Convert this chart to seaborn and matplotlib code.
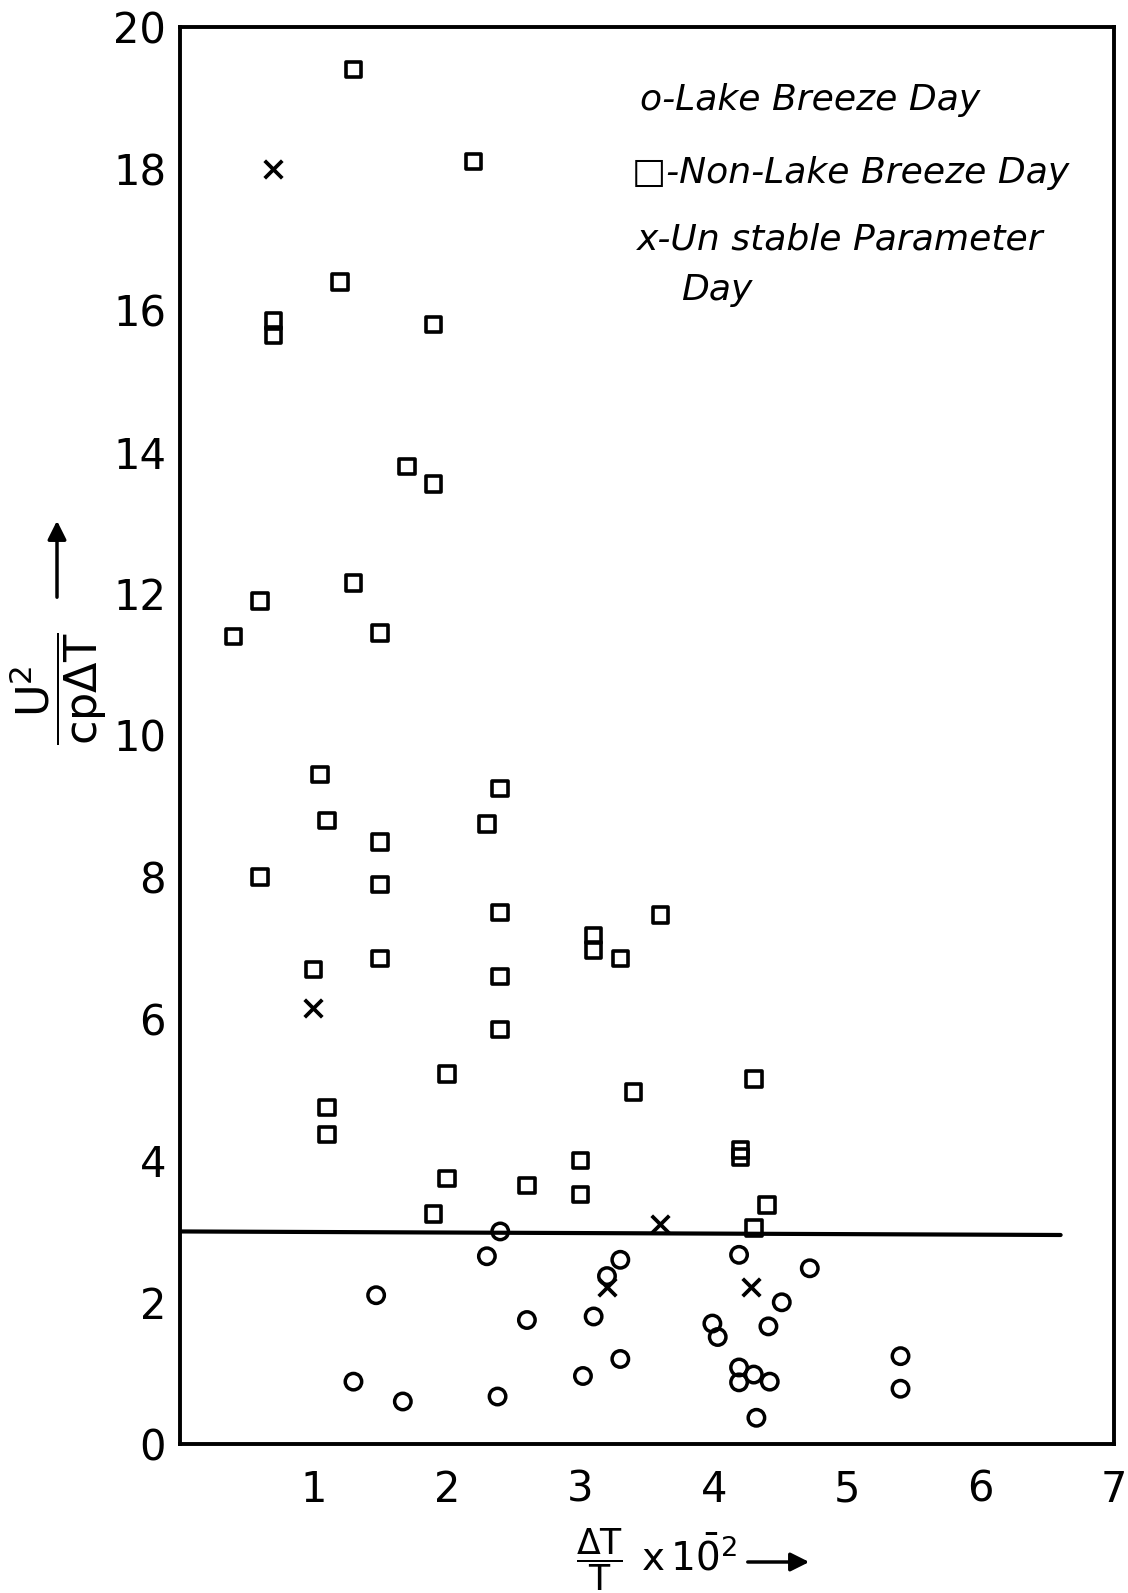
import matplotlib
matplotlib.use("Agg")
import matplotlib.pyplot as plt
import seaborn as sns

# ---------------- data ----------------
lake_x = [2.40, 2.30, 1.47, 2.60, 1.30, 1.67, 2.38, 3.30, 3.20, 3.10, 3.30, 3.02,
          4.19, 4.72, 4.51, 3.99, 4.03, 4.41, 4.19, 4.19, 4.30, 4.42, 4.32, 5.40, 5.40]
lake_y = [3.00, 2.65, 2.10, 1.75, 0.88, 0.60, 0.67, 2.60, 2.37, 1.80, 1.20, 0.96,
          2.67, 2.48, 2.00, 1.70, 1.51, 1.66, 1.08, 0.87, 0.98, 0.88, 0.37, 1.24, 0.78]

nonlake_x = [1.30, 2.20, 1.20, 0.70, 0.70, 1.90, 1.70, 1.90, 1.30, 0.60, 0.40, 1.50,
             1.05, 1.10, 2.40, 2.30, 1.50, 0.60, 1.50, 2.40, 1.50, 1.00, 2.40, 2.40,
             2.00, 1.10, 1.10, 2.00, 2.60, 1.90, 3.10, 3.10, 3.30, 3.60, 3.40, 4.30,
             3.00, 3.00, 4.20, 4.20, 4.40, 4.30]
nonlake_y = [19.40, 18.10, 16.40, 15.85, 15.65, 15.80, 13.80, 13.55, 12.15, 11.90, 11.40, 11.45,
             9.45, 8.80, 9.25, 8.75, 8.50, 8.00, 7.90, 7.50, 6.85, 6.70, 6.60, 5.85,
             5.22, 4.75, 4.37, 3.75, 3.65, 3.25, 7.18, 6.97, 6.85, 7.47, 4.97, 5.15,
             4.00, 3.52, 4.15, 4.05, 3.37, 3.05]

unstable_x = [0.70, 1.00, 3.60, 3.20, 4.28]
unstable_y = [18.00, 6.15, 3.10, 2.21, 2.22]

threshold_x = [0.0, 6.6]
threshold_y = [3.0, 2.95]

x_ticks = [1, 2, 3, 4, 5, 6, 7]
y_ticks = [0, 2, 4, 6, 8, 10, 12, 14, 16, 18, 20]
legend_lines = ["o-Lake Breeze Day", "\u25a1-Non-Lake Breeze Day",
                "x-Un stable Parameter", "Day"]

# ---------------- style ----------------
sns.set_theme(style="white")
plt.rcParams["font.family"] = ["DejaVu Sans"]
plt.rcParams["mathtext.fontset"] = "dejavusans"

W, H = 1128, 1593
fig = plt.figure(figsize=(W / 100, H / 100), dpi=100)
fig.patch.set_facecolor("white")
ax = fig.add_axes([180 / W, 1 - 1444 / H, (1114 - 180) / W, (1444 - 27) / H])
ax.set_facecolor("white")

# threshold line
sns.lineplot(x=threshold_x, y=threshold_y, ax=ax, color="black", linewidth=3.0)

# scatter series
sns.scatterplot(x=nonlake_x, y=nonlake_y, ax=ax, marker="s", s=125,
                color="black", linewidth=2.6, zorder=3)
sq = ax.collections[-1]
sq.set_facecolor("none"); sq.set_edgecolor("black")

sns.scatterplot(x=lake_x, y=lake_y, ax=ax, marker="o", s=140,
                color="black", linewidth=2.5, zorder=3)
cc = ax.collections[-1]
cc.set_facecolor("none"); cc.set_edgecolor("black")

sns.scatterplot(x=unstable_x, y=unstable_y, ax=ax, marker="x", s=160,
                color="black", linewidth=2.7, zorder=3)

# axes
ax.set_xlim(0, 7)
ax.set_ylim(0, 20)
ax.set_xticks(x_ticks)
ax.set_yticks(y_ticks)
ax.set_xticklabels([str(t) for t in x_ticks])
ax.set_yticklabels([str(t) for t in y_ticks])
ax.tick_params(axis="both", direction="in", length=17, width=2.2, color="black",
               labelsize=30, labelcolor="black")
ax.tick_params(axis="x", pad=18)
ax.tick_params(axis="y", pad=10)
for sp in ax.spines.values():
    sp.set_visible(True)
    sp.set_color("black")
    sp.set_linewidth(2.8)
ax.grid(False)
ax.set_xlabel("")
ax.set_ylabel("")

# legend (hand-lettered style text)
leg_pos = [(0.4925, 0.9485), (0.484, 0.897), (0.489, 0.8497), (0.536, 0.8144)]
for txt, (lx, ly) in zip(legend_lines, leg_pos):
    ax.text(lx, ly, txt, transform=ax.transAxes, fontsize=26, style="italic",
            va="center", ha="left", color="black")

# y-axis label: fraction + arrow
fig.text(58 / W, 1 - 689 / H, r"$\dfrac{\mathsf{U}^{2}}{\mathsf{cp}\Delta\mathsf{T}}$",
         rotation=90, fontsize=32, ha="center", va="center", color="black")
ax.annotate("", xy=(57 / W, 1 - 518 / H), xytext=(57 / W, 1 - 600 / H),
            xycoords="figure fraction", textcoords="figure fraction",
            arrowprops=dict(arrowstyle="-|>", lw=2.5, color="black", mutation_scale=28),
            annotation_clip=False)

# x-axis label: fraction, then "x 10^-2", then arrow
fig.text(600 / W, 1 - 1560 / H, r"$\dfrac{\Delta \mathsf{T}}{\mathsf{T}}$",
         fontsize=25, ha="center", va="center", color="black")
fig.text(641 / W, 1 - 1558 / H, r"$\mathsf{x}\,\mathsf{1\bar{0}}^{\mathsf{2}}$",
         fontsize=28, ha="left", va="center", color="black")
ax.annotate("", xy=(812 / W, 1 - 1562 / H), xytext=(745 / W, 1 - 1562 / H),
            xycoords="figure fraction", textcoords="figure fraction",
            arrowprops=dict(arrowstyle="-|>", lw=2.5, color="black", mutation_scale=28),
            annotation_clip=False)

fig.savefig("out.png", dpi=100, facecolor="white")
